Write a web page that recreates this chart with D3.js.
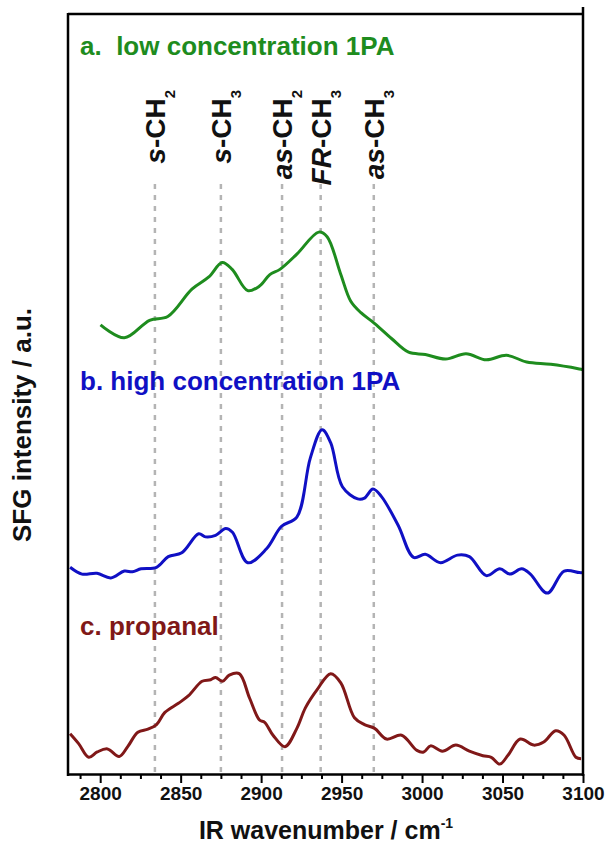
<!DOCTYPE html>
<html>
<head>
<meta charset="utf-8">
<script src="https://cdn.jsdelivr.net/npm/d3@7"></script>
<style>
  body { margin: 0; background: #fff; }
  text { font-family: "Liberation Sans", Arial, Helvetica, sans-serif; font-weight: bold; white-space: pre; }
</style>
</head>
<body>
<svg id="chart" width="610" height="851"></svg>
<script>
// SFG spectra (stacked, intensity in a.u. including vertical offsets)
const lowConcWn = [2800.2, 2815, 2830.7, 2842, 2857, 2867.5, 2875.8, 2882, 2891.7, 2899, 2905.4, 2911.7, 2922.2, 2935.8, 2941, 2949.4, 2955.7, 2962, 2970.4, 2981, 2991.6, 3002, 3014.6, 3027.3, 3039.9, 3052.5, 3065, 3080, 3097.7, 3100];
const lowConcI  = [59.1, 57.4, 59.7, 60.2, 63.8, 65.4, 67.3, 66.4, 63.6, 64.2, 65.7, 66.4, 68.4, 71.3, 70.7, 65.8, 62.2, 60.7, 59.3, 57.3, 55.5, 55.2, 54.6, 55.3, 54.5, 55.1, 54.2, 53.9, 53.3, 53.2];

const highConcWn = [2781.3, 2788.7, 2798, 2806.6, 2815, 2820, 2825.4, 2835, 2842.3, 2850.7, 2861.2, 2865.4, 2871.7, 2878, 2882.2, 2891.7, 2903.2, 2912.7, 2922.2, 2930.6, 2937.9, 2943.2, 2950.5, 2960, 2964.2, 2969.5, 2974.8, 2985.2, 2994.7, 3002, 3011.5, 3022, 3029.4, 3039.9, 3048.3, 3054.6, 3061.9, 3067.3, 3077.8, 3088.3, 3097.7, 3100];
const highConcI  = [27.2, 26.3, 26.4, 25.8, 26.7, 26.6, 27.0, 27.2, 28.6, 29.1, 31.6, 31.2, 31.4, 32.3, 31.8, 27.8, 29.6, 32.6, 33.8, 41.6, 45.3, 43.6, 37.8, 36.2, 36.3, 37.5, 36.5, 32.7, 28.5, 28.9, 27.8, 28.8, 28.6, 26.1, 27.0, 26.3, 27.0, 26.3, 23.8, 26.7, 26.5, 26.5];

const propanalWn = [2781.3, 2786.6, 2792.9, 2798.2, 2804.5, 2811.8, 2817.1, 2823.4, 2829.7, 2835, 2840.2, 2848.6, 2854.9, 2863.3, 2868.6, 2871.7, 2876, 2880.2, 2886.4, 2892.8, 2899, 2902.2, 2907.4, 2914.8, 2922.2, 2927.5, 2934.8, 2943.2, 2949.5, 2958, 2964.2, 2970.5, 2977.9, 2987.3, 2996.8, 3001, 3005.3, 3012.6, 3021, 3029.4, 3037.8, 3043, 3048.3, 3053.5, 3061, 3069.4, 3075.6, 3083, 3088.3, 3095.6, 3098.8];
const propanalI  = [5.3, 4.0, 2.2, 2.9, 3.3, 2.3, 3.6, 5.5, 5.9, 6.5, 8.1, 9.3, 10.3, 12.2, 12.4, 12.7, 12.2, 13.0, 13.2, 10.0, 7.1, 6.8, 5.1, 3.6, 6.0, 8.7, 11.1, 13.2, 12.0, 7.4, 6.5, 6.0, 4.6, 5.1, 3.1, 2.9, 3.7, 3.0, 3.8, 3.0, 2.4, 2.2, 1.3, 2.5, 4.6, 3.8, 4.2, 5.7, 5.1, 2.2, 2.0];

// Vibrational mode assignments
const bandWn     = [2834, 2875, 2913, 2937, 2970];
const bandPrefix = ["s", "s", "as", "FR", "as"];
const bandGroup  = ["-CH", "-CH", "-CH", "-CH", "-CH"];
const bandSub    = ["2", "3", "2", "3", "3"];

const seriesLabels = ["a.  low concentration 1PA", "b. high concentration 1PA", "c. propanal"];
const seriesColors = ["#1e8c1e", "#1010c4", "#801818"];

const xTickValues = [2800, 2850, 2900, 2950, 3000, 3050, 3100];
const xDomain = [2780, 3100];
const yDomain = [0, 100];

const svg = d3.select("#chart");
const plotL = 68, plotR = 583, plotT = 14, plotB = 774;

const x = d3.scaleLinear().domain(xDomain).range([plotL, plotR]);
const y = d3.scaleLinear().domain(yDomain).range([plotB, plotT]);

// dashed assignment guides
svg.append("g").selectAll("line").data(bandWn).join("line")
  .attr("x1", d => x(d)).attr("x2", d => x(d))
  .attr("y1", 184).attr("y2", plotB)
  .attr("stroke", "#b4b4b4").attr("stroke-width", 2.5)
  .attr("stroke-dasharray", "5,6");

// assignment labels, rotated
const bl = svg.append("g").selectAll("text").data(bandWn).join("text")
  .attr("transform", d => `translate(${x(d) + 10},90) rotate(-90)`)
  .attr("text-anchor", "end")
  .attr("font-size", 28)
  .attr("fill", "#111");
bl.append("tspan").attr("font-style", "italic").text((d, i) => bandPrefix[i]);
bl.append("tspan").text((d, i) => bandGroup[i]);
bl.append("tspan").attr("font-size", 15).attr("dy", 10).text((d, i) => bandSub[i]);

// spectra
const line = d3.line().curve(d3.curveCatmullRom.alpha(0.5))
  .x(d => x(d[0])).y(d => y(d[1]));
const spectra = [
  d3.zip(lowConcWn, lowConcI),
  d3.zip(highConcWn, highConcI),
  d3.zip(propanalWn, propanalI)
];
svg.append("g").selectAll("path").data(spectra).join("path")
  .attr("d", line)
  .attr("fill", "none")
  .attr("stroke", (d, i) => seriesColors[i])
  .attr("stroke-width", 3)
  .attr("stroke-linejoin", "round");

// series labels
const labelY = [55, 390, 635];
svg.append("g").selectAll("text").data(seriesLabels).join("text")
  .attr("x", 80).attr("y", (d, i) => labelY[i])
  .attr("font-size", 26)
  .attr("fill", (d, i) => seriesColors[i])
  .text(d => d);

// frame
const frame = svg.append("g").attr("stroke", "#000").attr("stroke-width", 2.5).attr("fill", "none");
frame.append("line").attr("x1", plotL).attr("x2", plotL).attr("y1", plotT - 1).attr("y2", plotB + 2);
frame.append("line").attr("x1", plotR).attr("x2", plotR).attr("y1", plotT - 7).attr("y2", plotB + 2);
frame.append("line").attr("x1", plotL).attr("x2", plotR).attr("y1", plotT).attr("y2", plotT);

// bottom axis: major + minor ticks
const minorTicks = d3.range(2787.5, 3100, 12.5).filter(v => Math.abs(v / 50 - Math.round(v / 50)) > 1e-6);
const minorAxis = d3.axisBottom(x).tickValues(minorTicks).tickSize(5).tickFormat("");
const gMinor = svg.append("g").attr("transform", `translate(0,${plotB})`).call(minorAxis);
gMinor.select(".domain").remove();
gMinor.selectAll("line").attr("stroke", "#000").attr("stroke-width", 2);

const xAxis = d3.axisBottom(x).tickValues(xTickValues).tickFormat(d3.format("d"))
  .tickSize(9).tickPadding(4).tickSizeOuter(0);
const gx = svg.append("g").attr("transform", `translate(0,${plotB})`).call(xAxis);
gx.select(".domain").attr("stroke", "#000").attr("stroke-width", 2.5);
gx.selectAll(".tick line").attr("stroke", "#000").attr("stroke-width", 2);
gx.selectAll(".tick text").attr("font-size", 19).attr("fill", "#111");

// axis titles
const xt = svg.append("text").attr("x", 326).attr("y", 839).attr("text-anchor", "middle")
  .attr("font-size", 25).attr("fill", "#111");
xt.append("tspan").text("IR wavenumber / cm");
xt.append("tspan").attr("font-size", 14).attr("dy", -11).text("-1");

svg.append("text").attr("transform", "translate(31,425) rotate(-90)")
  .attr("text-anchor", "middle").attr("font-size", 26).attr("fill", "#111")
  .text("SFG intensity / a.u.");
</script>
</body>
</html>
